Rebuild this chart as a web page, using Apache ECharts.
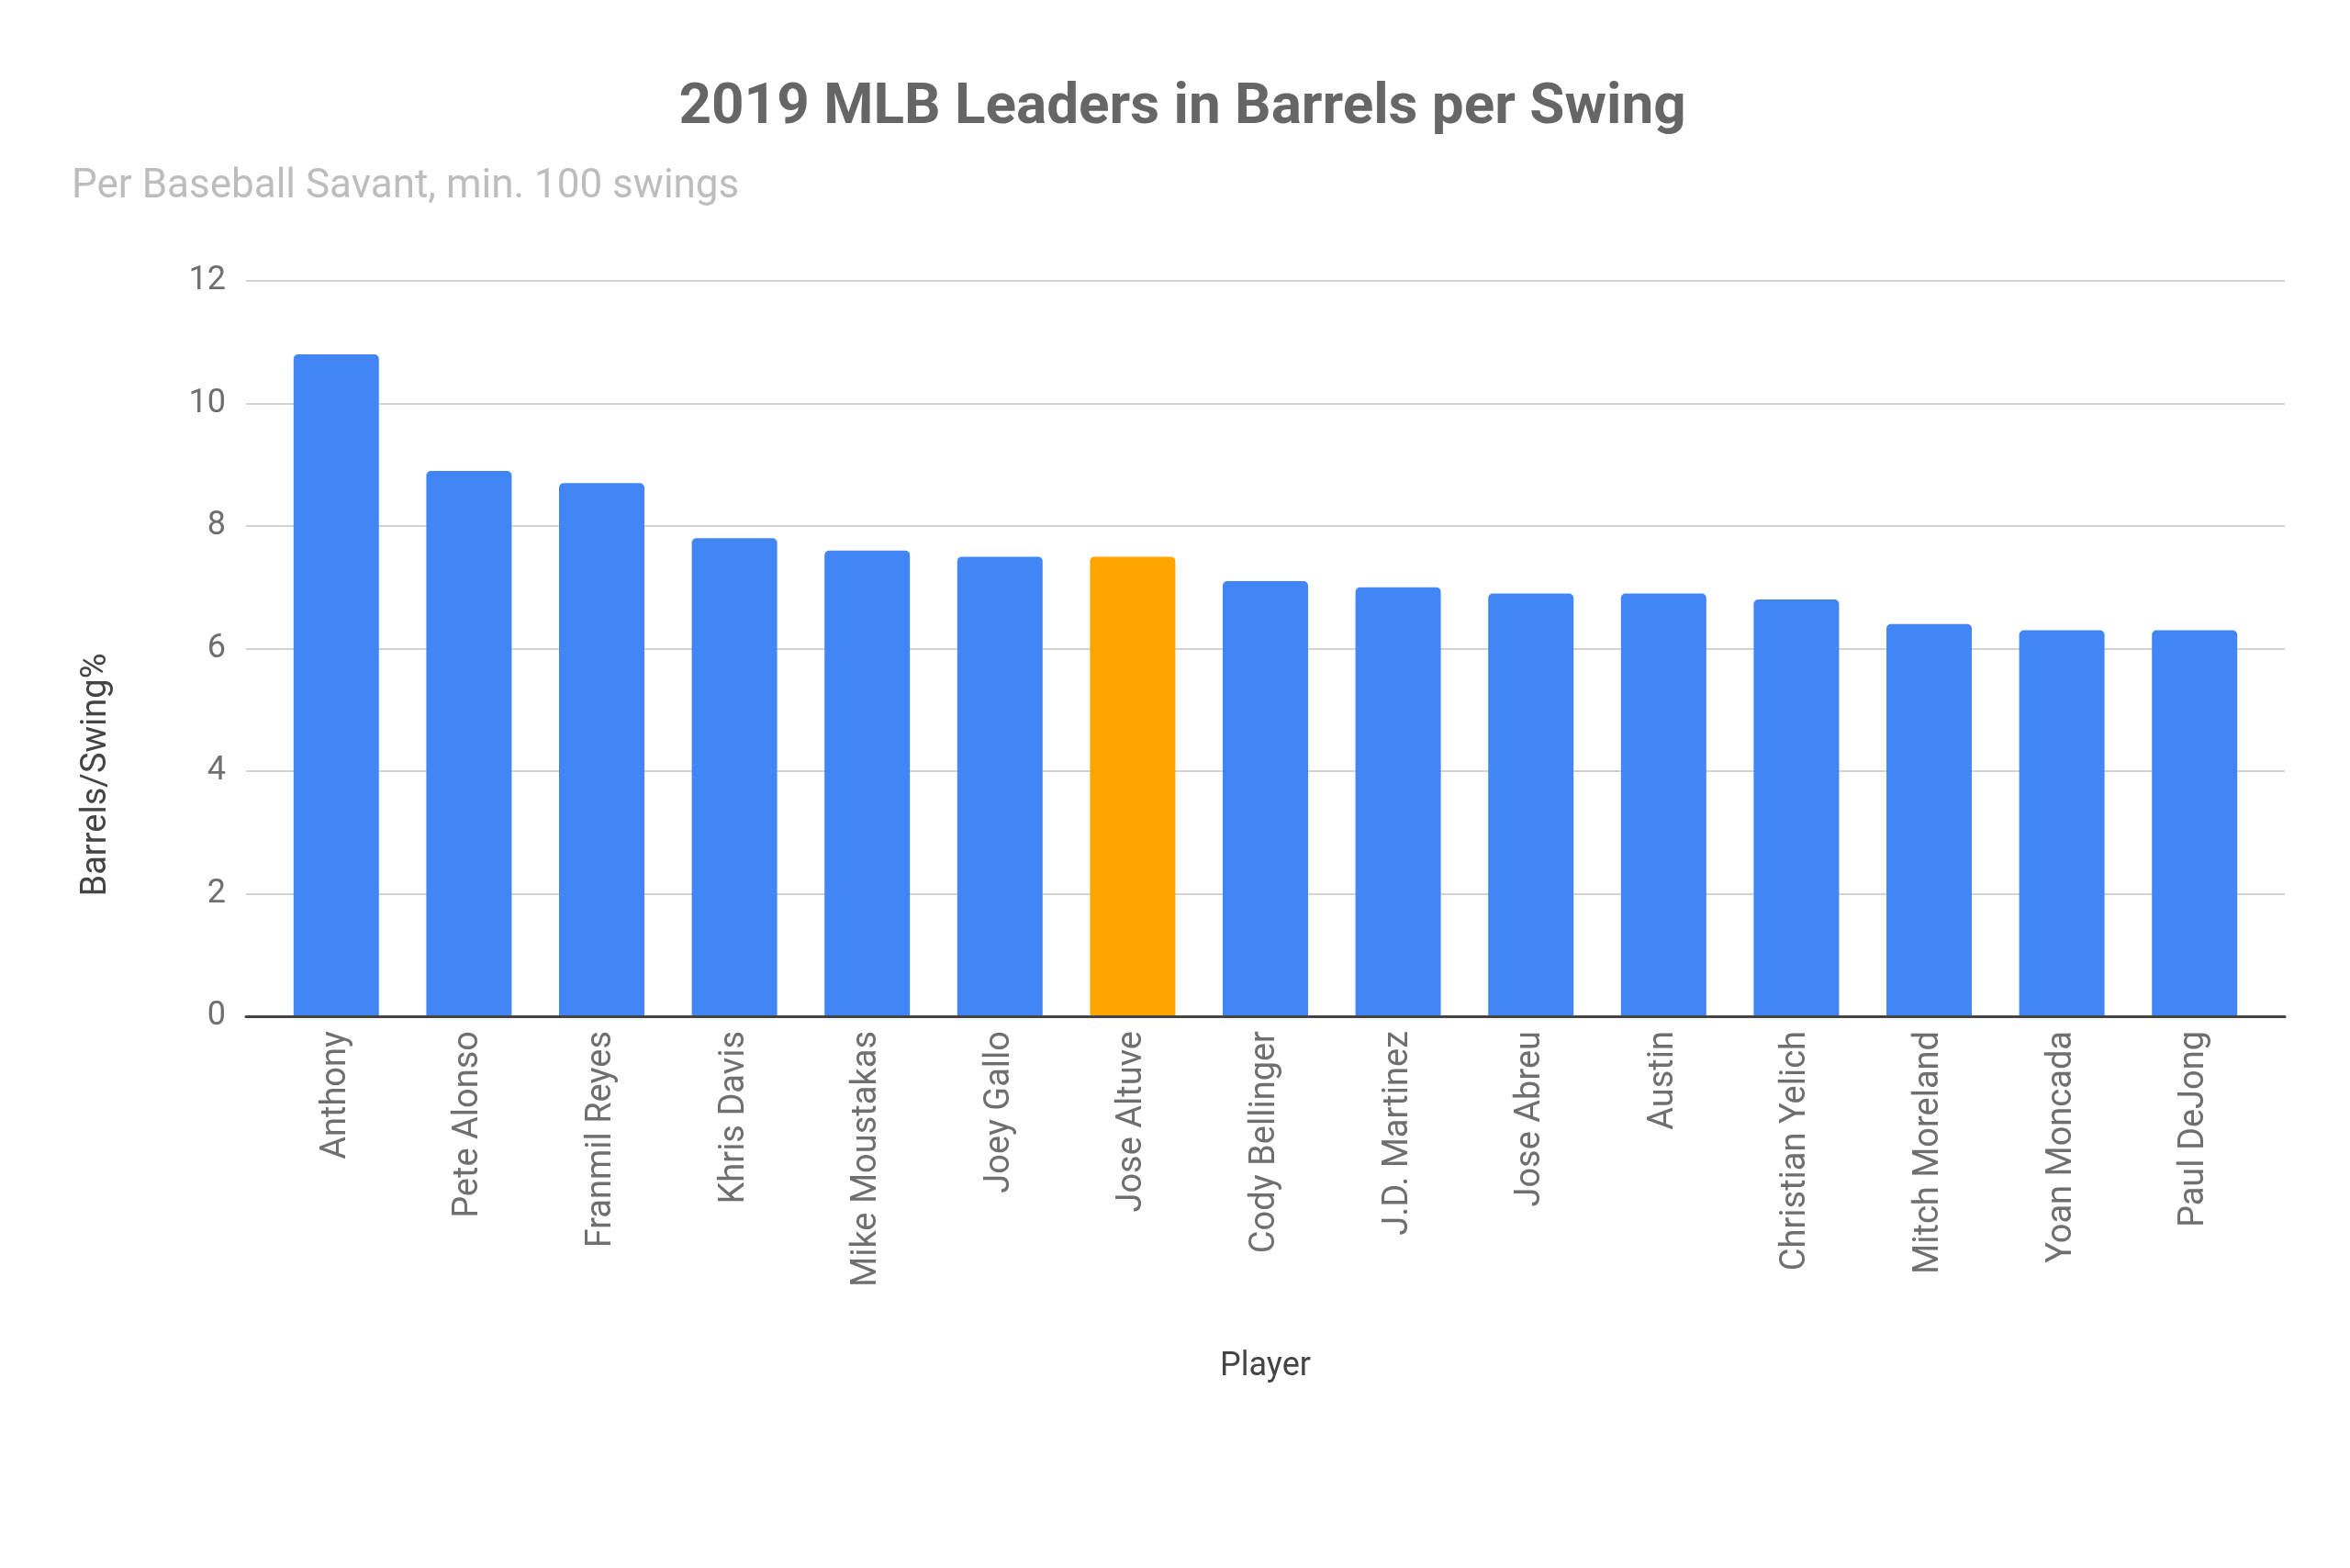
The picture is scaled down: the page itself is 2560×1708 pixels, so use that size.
<!DOCTYPE html>
<html>
<head>
<meta charset="utf-8">
<script src="https://cdn.jsdelivr.net/npm/echarts@6/dist/echarts.min.js"></script>
<style>
  html, body { margin: 0; padding: 0; background: #fff; }
  #chart { width: 2560px; height: 1708px; }
</style>
</head>
<body>
<div id="chart"></div>
<script>
const players = [
  "Anthony", "Pete Alonso", "Franmil Reyes", "Khris Davis", "Mike Moustakas",
  "Joey Gallo", "Jose Altuve", "Cody Bellinger", "J.D. Martinez", "Jose Abreu",
  "Austin", "Christian Yelich", "Mitch Moreland", "Yoan Moncada", "Paul DeJong"
];
const barrelsPerSwing = [10.8, 8.9, 8.7, 7.8, 7.6, 7.5, 7.5, 7.1, 7.0, 6.9, 6.9, 6.8, 6.4, 6.3, 6.3];
const highlighted = "Jose Altuve";

const chart = echarts.init(document.getElementById("chart"));
const font = "Roboto";

chart.setOption({
  animation: false,
  title: [
    {
      text: "2019 MLB Leaders in Barrels per Swing",
      left: 1288,
      top: 87,
      padding: 0,
      textAlign: "center",
      textStyle: { fontFamily: font, fontSize: 62, fontWeight: "bold", color: "#666" }
    },
    {
      text: "Per Baseball Savant, min. 100 swings",
      left: 78,
      top: 182,
      padding: 0,
      textStyle: { fontFamily: font, fontSize: 44, fontWeight: "normal", color: "#bdbdbd" }
    }
  ],
  // grid 0 carries gridlines and the baseline, grid 1 the bars (inset like the original)
  grid: [
    { left: 268, right: 71, top: 306, bottom: 601, containLabel: false },
    { left: 294, right: 97, top: 306, bottom: 601, containLabel: false }
  ],
  xAxis: [
    {
      type: "category",
      gridIndex: 0,
      data: players,
      z: 3,
      axisLine: { lineStyle: { color: "#444", width: 3 } },
      axisTick: { show: false },
      axisLabel: { show: false }
    },
    {
      type: "category",
      gridIndex: 1,
      data: players,
      name: "Player",
      nameLocation: "middle",
      nameGap: 364,
      nameTextStyle: { fontFamily: font, fontSize: 36, color: "#444" },
      axisLine: { show: false },
      axisTick: { show: false },
      axisLabel: { rotate: 90, margin: 16, fontFamily: font, fontSize: 38, color: "#6f6f6f" }
    }
  ],
  yAxis: [
    {
      type: "value",
      gridIndex: 0,
      min: 0,
      max: 12,
      interval: 2,
      name: "Barrels/Swing%",
      nameLocation: "middle",
      nameGap: 144,
      nameTextStyle: { fontFamily: font, fontSize: 38, color: "#444", padding: [0, 275, 0, 0] },
      axisLine: { show: false },
      axisTick: { show: false },
      axisLabel: { margin: 22, fontFamily: font, fontSize: 36, color: "#6f6f6f" },
      splitLine: { lineStyle: { color: "#d3d3d3", width: 2 } }
    },
    {
      type: "value",
      gridIndex: 1,
      min: 0,
      max: 12,
      interval: 2,
      show: false
    }
  ],
  series: [
    {
      type: "bar",
      xAxisIndex: 1,
      yAxisIndex: 1,
      data: barrelsPerSwing.map((v, i) => ({
        value: v,
        itemStyle: { color: players[i] === highlighted ? "#ffa500" : "#4285f4" }
      })),
      barCategoryGap: "35.7%",
      itemStyle: { borderRadius: [5, 5, 0, 0] }
    }
  ]
});
</script>
</body>
</html>
